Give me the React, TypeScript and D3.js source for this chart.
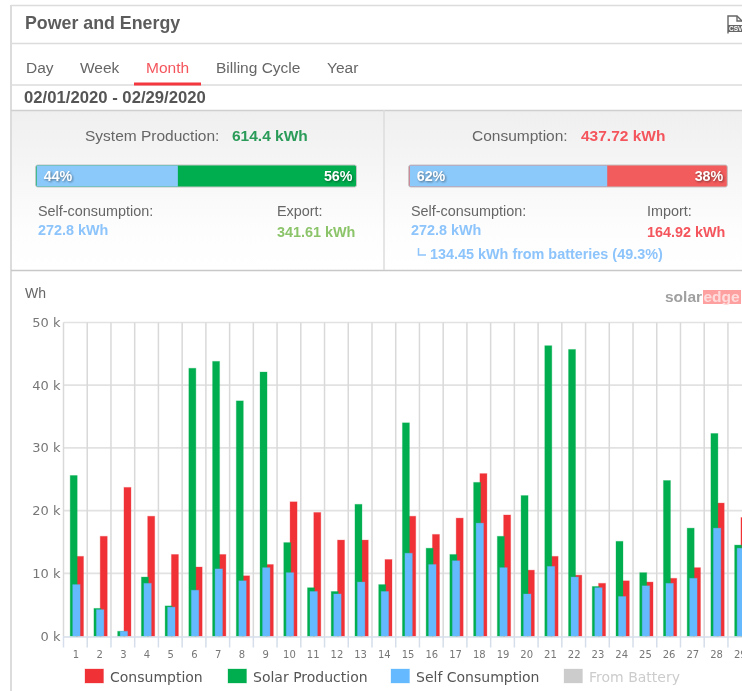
import React from "react";
import * as d3 from "d3";

const days = d3.range(1, 30).map(String);
const solarProduction = [25.6,4.4,0.75,9.4,4.8,42.7,43.8,37.5,42.1,14.9,7.7,7.1,21,8.2,34,14,13,24.5,15.9,22.4,46.3,45.7,7.9,15.1,10.1,24.8,17.2,32.3,14.5];
const consumption = [12.7,15.9,23.7,19.1,13,11,13,9.6,11.4,21.4,19.7,15.3,15.3,12.2,19.1,16.2,18.8,25.9,19.3,10.5,12.7,9.7,8.4,8.8,8.6,9.2,10.9,21.2,18.9];
const selfConsumption = [8.2,4.2,0.75,8.4,4.6,7.3,10.7,8.8,10.9,10.1,7.1,6.7,8.6,7.1,13.2,11.4,12,18,10.9,6.7,11.1,9.4,7.7,6.3,8,8.4,9.2,17.2,14];
const yTicks = [0, 10, 20, 30, 40, 50];
const tabs = ["Day", "Week", "Month", "Billing Cycle", "Year"];
const tabX = [26, 80, 146, 216, 327];
const legendItems = ["Consumption", "Solar Production", "Self Consumption", "From Battery"];
const legendColors = ["#f03237", "#00ae4f", "#65b9ff", "#cccccc"];
const legendX = [85, 228, 391, 564];
const productionShare = [44, 56];
const consumptionShare = [62, 38];

const SANS = "'Liberation Sans', Arial, sans-serif";
const AXIS = "'DejaVu Sans', sans-serif";

const y = d3.scaleLinear().domain([0, 50]).range([636, 322.5]);
const STEP = 23.73;
const x = d3.scaleBand().domain(days).range([63.5, 63.5 + STEP * days.length]);

const prodBar = d3.scaleLinear().domain([0, 100]).range([35.7, 356.5]);
const consBar = d3.scaleLinear().domain([0, 100]).range([408.7, 727.3]);

function Bars({ values, color, offset, width }: { values: number[]; color: string; offset: number; width: number }) {
  return (
    <g>
      {values.map((v, i) => (
        <rect key={i} x={x(days[i])! + offset} y={y(v)} width={width} height={y(0) - y(v)}
          fill={color} stroke={color} strokeOpacity={0.3} strokeWidth={1} />
      ))}
    </g>
  );
}

function ShareBar({ scale, share, leftColor, rightColor }: { scale: d3.ScaleLinear<number, number>; share: number[]; leftColor: string; rightColor: string }) {
  const [a, b] = scale.range();
  const split = scale(share[0]) + 1;
  const shadow = { filter: "drop-shadow(1px 1px 1px rgba(0,0,0,0.45))" };
  return (
    <g>
      <rect x={a} y={165} width={b - a} height={22} rx={2} fill={rightColor} stroke="#c4c4c4" strokeWidth={1} />
      <path d={`M${a + 1},165.5H${split}V186.5H${a + 1}Z`} fill={leftColor} />
      <text x={a + 8} y={181} fontFamily={SANS} fontSize={14.3} fontWeight={700} fill="#fff" style={shadow}>{share[0]}%</text>
      <text x={b - 4} y={181} textAnchor="end" fontFamily={SANS} fontSize={14.3} fontWeight={700} fill="#fff" style={shadow}>{share[1]}%</text>
    </g>
  );
}

export default function App() {
  const gray = "#666";
  return (
    <svg width={742} height={691} style={{ position: "fixed", left: 0, top: 0, display: "block", background: "#fff", filter: "blur(0.3px)" }}>
      <defs>
        <linearGradient id="panel" x1="0" y1="0" x2="0" y2="1">
          <stop offset="0" stopColor="#efefef" />
          <stop offset="0.75" stopColor="#fdfdfd" />
          <stop offset="1" stopColor="#ffffff" />
        </linearGradient>
      </defs>

      <rect x={0} y={0} width={742} height={691} fill="#fff" />
      <rect x={11} y={110} width={731} height={160} fill="url(#panel)" />
      <g stroke="#dcdcdc" strokeWidth={1.5} fill="none">
        <path d="M11,5.5H742" />
        <path d="M11,5V691" strokeWidth={2} />
        <path d="M11,43.5H742" />
        <path d="M11,85H742" />
        <path d="M11,110.5H742" stroke="#cfcfcf" />
        <path d="M11,270.5H742" stroke="#c8c8c8" />
        <path d="M384,110V270" />
      </g>

      <text x={25} y={29} fontFamily={SANS} fontSize={17.8} fontWeight={700} fill="#5c5c5c">Power and Energy</text>

      <g fill="none" stroke="#666" strokeWidth={1.4}>
        <path d="M728,33.5V16H737L742,21" />
        <path d="M737,16V21H742" />
      </g>
      <rect x={728} y={25} width={14} height={7} fill="#666" />
      <text x={729} y={31} fontFamily={SANS} fontSize={6.5} fontWeight={700} fill="#fff">CSV</text>

      {tabs.map((t, i) => (
        <text key={t} x={tabX[i]} y={73} fontFamily={SANS} fontSize={15.5} fill={t === "Month" ? "#f4555c" : gray}>{t}</text>
      ))}
      <rect x={134} y={82.5} width={67} height={3} fill="#f4363f" />

      <text x={24} y={103} fontFamily={SANS} fontSize={16.7} fontWeight={700} fill="#555">02/01/2020 - 02/29/2020</text>

      <text x={85} y={141} fontFamily={SANS} fontSize={15.5} fill={gray}>System Production:</text>
      <text x={232} y={141} fontFamily={SANS} fontSize={15.5} fontWeight={700} fill="#2a9b58">614.4 kWh</text>
      <ShareBar scale={prodBar} share={productionShare} leftColor="#8cc9fb" rightColor="#00ae4f" />
      <text x={38} y={216} fontFamily={SANS} fontSize={14.4} fill={gray}>Self-consumption:</text>
      <text x={38} y={235} fontFamily={SANS} fontSize={14.4} fontWeight={700} fill="#8cc4fb">272.8 kWh</text>
      <text x={277} y={216} fontFamily={SANS} fontSize={14.4} fill={gray}>Export:</text>
      <text x={277} y={237} fontFamily={SANS} fontSize={14.4} fontWeight={700} fill="#8cc46a">341.61 kWh</text>

      <text x={472} y={141} fontFamily={SANS} fontSize={15.5} fill={gray}>Consumption:</text>
      <text x={581} y={141} fontFamily={SANS} fontSize={15.5} fontWeight={700} fill="#f4555c">437.72 kWh</text>
      <ShareBar scale={consBar} share={consumptionShare} leftColor="#8cc9fb" rightColor="#f25c5c" />
      <text x={411} y={216} fontFamily={SANS} fontSize={14.4} fill={gray}>Self-consumption:</text>
      <text x={411} y={235} fontFamily={SANS} fontSize={14.4} fontWeight={700} fill="#8cc4fb">272.8 kWh</text>
      <text x={647} y={216} fontFamily={SANS} fontSize={14.4} fill={gray}>Import:</text>
      <text x={647} y={237} fontFamily={SANS} fontSize={14.4} fontWeight={700} fill="#f4555c">164.92 kWh</text>
      <path d="M418.5,248V255H426" fill="none" stroke="#8cc4fb" strokeWidth={1.5} />
      <text x={430} y={259} fontFamily={SANS} fontSize={14.4} fontWeight={700} fill="#8cc4fb">134.45 kWh from batteries (49.3%)</text>

      <text x={25} y={298} fontFamily={SANS} fontSize={14} fill={gray}>Wh</text>

      <rect x={703} y={290} width={38} height={14} fill="#ffa0a0" />
      <text x={665} y={301.5} fontFamily={SANS} fontSize={15.5} fontWeight={700} fill="#a0a0a0">solar</text>
      <text x={703.5} y={301.5} fontFamily={SANS} fontSize={15.5} fontWeight={700} fill="#ffdcdc">edge</text>

      {/* grid */}
      <g stroke="#e2e2e2" strokeWidth={1.7}>
        {yTicks.filter(t => t > 0).map(t => <line key={t} x1={63.5} x2={742} y1={y(t)} y2={y(t)} />)}
      </g>
      <g>
        {[...days, "end"].map((d, i) => {
          const px = x.range()[0] + i * x.bandwidth();
          return (
            <g key={d}>
              <line x1={px} x2={px} y1={322.5} y2={y(0)} stroke="#d9d9d9" strokeWidth={1.5} />
              <line x1={px} x2={px} y1={y(0)} y2={647.5} stroke="#d5deea" strokeWidth={1.5} />
            </g>
          );
        })}
      </g>
      <line x1={63.5} x2={742} y1={637} y2={637} stroke="#d5deea" strokeWidth={1.5} />

      {yTicks.map(t => (
        <text key={t} x={60.5} y={y(t) + 4.5} textAnchor="end" fontFamily={AXIS} fontSize={13} fill="#777">{t} k</text>
      ))}
      {days.map(d => (
        <text key={d} x={x(d)! + x.bandwidth() / 2 + 0.5} y={658} textAnchor="middle" fontFamily={AXIS} fontSize={10} fill="#777">{d}</text>
      ))}

      <Bars values={consumption} color="#f03237" offset={13} width={7} />
      <Bars values={solarProduction} color="#00ae4f" offset={6.7} width={7} />
      <Bars values={selfConsumption} color="#65b9ff" offset={9.2} width={7.4} />

      {legendItems.map((name, i) => (
        <g key={name}>
          <rect x={legendX[i]} y={669} width={18.5} height={14} fill={legendColors[i]} stroke={legendColors[i]} strokeOpacity={0.3} />
          <text x={legendX[i] + 25} y={682} fontFamily={AXIS} fontSize={14} fill={i === 3 ? "#cccccc" : "#555"}>{name}</text>
        </g>
      ))}
    </svg>
  );
}
